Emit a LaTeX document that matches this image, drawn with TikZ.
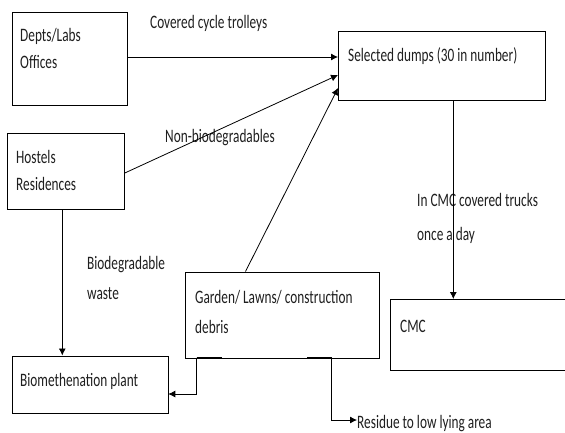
\documentclass[tikz,border=0pt]{standalone}
\usepackage{fontspec}
\setmainfont[FakeStretch=0.7]{Carlito}
\usetikzlibrary{arrows.meta}
\begin{document}
\begin{tikzpicture}[x=1pt,y=-1pt,
  box/.style={draw=black,line width=0.8pt,inner sep=0pt,anchor=north west},
  txt/.style={anchor=base west,inner sep=0pt,text=black!88,font=\fontsize{19}{22}\selectfont},
  conn/.style={draw=black,line width=0.8pt,-{Latex[length=7pt,width=7pt]}},
  stub/.style={draw=black,line width=2pt}]
\useasboundingbox (0,0) rectangle (565,432);
% boxes
\node[box,minimum width=115pt,minimum height=93pt] (depts) at (12,12) {};
\node[box,minimum width=207pt,minimum height=69pt] (dumps) at (338,31) {};
\node[box,minimum width=117pt,minimum height=76pt] (hostels) at (7,133) {};
\node[box,minimum width=194pt,minimum height=86pt] (garden) at (185,271.5) {};
\node[box,minimum width=190pt,minimum height=71pt] (cmc) at (390,299) {};
\node[box,minimum width=156pt,minimum height=57pt] (bio) at (11.5,355.5) {};
% box texts
\node[txt] (t1) at (20,41) {Depts/Labs};
\node[txt] (t2) at (20,68) {Offices};
\node[txt] (t3) at (348,61) {Selected dumps (30 in number)};
\node[txt] (t4) at (16,163) {Hostels};
\node[txt] (t5) at (16,190) {Residences};
\node[txt] (t6) at (195,303) {Garden/ Lawns/ construction};
\node[txt] (t7) at (195,333) {debris};
\node[txt] (t8) at (400,332) {CMC};
\node[txt] (t9) at (20,386) {Biomethenation plant};
% labels
\node[txt] (l1) at (150,28) {Covered cycle trolleys};
\node[txt] (l2) at (165,142) {Non-biodegradables};
\node[txt] (l3) at (87,269) {Biodegradable};
\node[txt] (l4) at (87,299) {waste};
\node[txt] (l5) at (417,206) {In CMC covered trucks};
\node[txt] (l6) at (417,240) {once a day};
\node[txt] (res) at (357,428) {Residue to low lying area};
% connectors
\draw[conn] (depts.east |- 0,57) -- (dumps.west |- 0,57);
\draw[conn] (hostels.east |- 0,173) -- (dumps.west |- 0,75);
\draw[conn] (245.5,271.5) -- (dumps.west |- 0,88);
\draw[conn] (62.3,209) -- (62.3,355.5);
\draw[conn] (453.3,100) -- (453.3,299);
\coordinate (g1) at (196.7,357.5);
\coordinate (r1) at (331.7,357.5);
\draw[stub] (196.7,357.5) -- (222,357.5);
\draw[stub] (307,357.5) -- (331.7,357.5);
\draw[conn] (g1) |- (bio.east |- 0,394);
\draw[conn] (r1) |- (res.west |- 0,420);
\end{tikzpicture}
\end{document}
